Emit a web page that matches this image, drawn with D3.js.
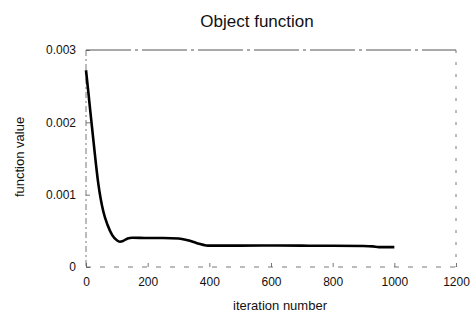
<!DOCTYPE html>
<html>
<head>
<meta charset="utf-8">
<script src="https://cdn.jsdelivr.net/npm/d3@7"></script>
<style>
  body { margin: 0; background: #fff; }
  text { font-family: "Liberation Sans", Arial, sans-serif; fill: #111; }
</style>
</head>
<body>
<script>
/* Values */
var iterations = [0, 8, 14, 24, 40, 56, 70, 85, 100, 110, 120, 135, 150, 200, 250, 300, 330, 360, 390, 400, 500, 600, 700, 800, 900, 930, 950, 1000];
var objValues = [0.00272, 0.0024, 0.00215, 0.00175, 0.00115, 0.00077, 0.00058, 0.00044, 0.00037, 0.00035, 0.00036, 0.000395, 0.000405, 0.0004, 0.0004, 0.000395, 0.00037, 0.00033, 0.000298, 0.000295, 0.000295, 0.000297, 0.000295, 0.000293, 0.00029, 0.000285, 0.000275, 0.000275];
var xTicks = [0, 200, 400, 600, 800, 1000, 1200];
var yTicks = [0, 0.001, 0.002, 0.003];

var width = 471, height = 316;
var margin = {top: 50, right: 15, bottom: 49, left: 86};

var svg = d3.select('body').append('svg')
    .attr('width', width)
    .attr('height', height);

var x = d3.scaleLinear().domain([0, 1200]).range([margin.left, width - margin.right]);
var y = d3.scaleLinear().domain([0, 0.003]).range([height - margin.bottom, margin.top]);

/* Frame, broken like the scanned original */
var frame = svg.append('g').attr('stroke', '#555').attr('fill', 'none');
frame.append('line')
    .attr('x1', x(0)).attr('x2', x(1200)).attr('y1', y(0.003)).attr('y2', y(0.003))
    .attr('stroke-width', 1).attr('stroke-dasharray', '45,4,3,4');
frame.append('line')
    .attr('x1', x(1200)).attr('x2', x(1200)).attr('y1', y(0.003)).attr('y2', y(0))
    .attr('stroke-width', 0.8).attr('stroke-dasharray', '3,9');
frame.append('line')
    .attr('x1', x(0)).attr('x2', x(0)).attr('y1', y(0.003)).attr('y2', y(0))
    .attr('stroke-width', 0.8).attr('stroke-dasharray', '6,3,2,3');
frame.append('line')
    .attr('x1', x(0)).attr('x2', x(1200)).attr('y1', y(0)).attr('y2', y(0))
    .attr('stroke-width', 0.8).attr('stroke-dasharray', '5,9');

/* Axes with short inward ticks */
var xAxis = svg.append('g')
    .attr('transform', 'translate(0,' + y(0) + ')')
    .call(d3.axisBottom(x).tickValues(xTicks).tickSize(-4).tickPadding(10)
        .tickFormat(d3.format('d')));
var yAxis = svg.append('g')
    .attr('transform', 'translate(' + x(0) + ',0)')
    .call(d3.axisLeft(y).tickValues(yTicks).tickSize(-4).tickPadding(10)
        .tickFormat(function (d) { return d === 0 ? '0' : d3.format('.3f')(d); }));
[xAxis, yAxis].forEach(function (a) {
    a.select('.domain').remove();
    a.selectAll('line').attr('stroke', '#555').attr('stroke-width', 0.8);
    a.selectAll('text').attr('font-size', 12)
        .attr('font-family', '"Liberation Sans", Arial, sans-serif').attr('fill', '#111');
});

/* Curve */
var line = d3.line()
    .x(function (d, i) { return x(iterations[i]); })
    .y(function (d) { return y(d); })
    .curve(d3.curveMonotoneX);
svg.append('path')
    .datum(objValues)
    .attr('d', line)
    .attr('fill', 'none')
    .attr('stroke', '#000')
    .attr('stroke-width', 2.6)
    .attr('stroke-linejoin', 'round');

/* Titles */
svg.append('text')
    .attr('x', 257).attr('y', 27)
    .attr('text-anchor', 'middle')
    .attr('font-size', 17)
    .text('Object function');
svg.append('text')
    .attr('x', 280).attr('y', 310)
    .attr('text-anchor', 'middle')
    .attr('font-size', 13)
    .text('iteration number');
svg.append('text')
    .attr('transform', 'translate(24,157) rotate(-90)')
    .attr('text-anchor', 'middle')
    .attr('font-size', 13)
    .text('function value');
</script>
</body>
</html>
